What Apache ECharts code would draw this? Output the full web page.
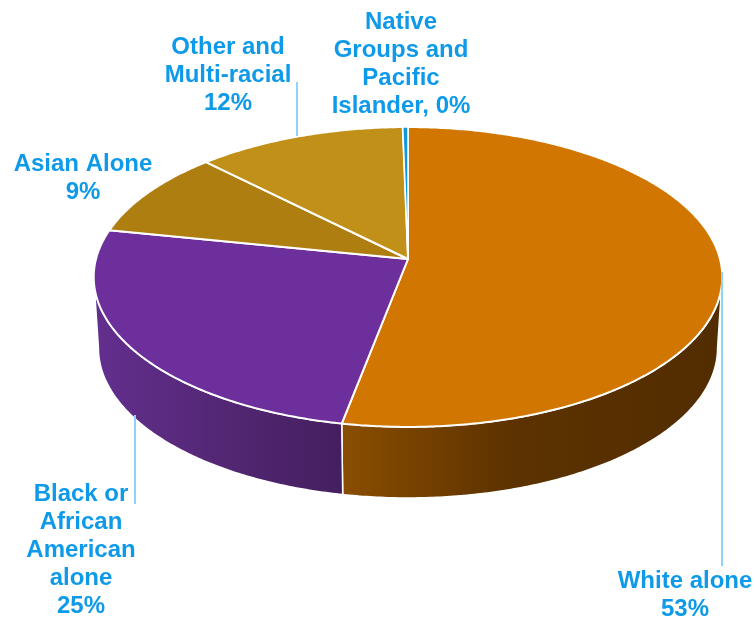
<!DOCTYPE html>
<html><head><meta charset="utf-8">
<style>html,body{margin:0;padding:0;background:#fff}#c{width:755px;height:617px}</style>
<script src="https://cdn.jsdelivr.net/npm/echarts@6/dist/echarts.min.js"></script>
</head><body><div id="c"></div>
<script>
const categories = ['White alone','Black or African American alone','Asian Alone','Other and Multi-racial','Native Groups and Pacific Islander'];
const shares = [53.0, 25.2, 9.4, 12.1, 0.3];
const labelTexts = ['White alone\n53%','Black or\nAfrican\nAmerican\nalone\n25%','Asian Alone\n9%','Other and\nMulti-racial\n12%','Native\nGroups and\nPacific\nIslander, 0%'];
const topColors = ['#d17600','#6d2f9c','#ae7e10','#c19018','#1097dc'];
const sideColors = [['#8a4e00','#5c3200','#522d00'],['#632f8f','#552877','#441f5f'],['#6f5009','#6f5009','#6f5009'],['#7b5b0e','#7b5b0e','#7b5b0e'],['#0a6090','#0a6090','#0a6090']];
const labelPos = [[685,595],[81,550],[83,178],[228,75],[401,64]];
const leaders = [[722,272,722,566],[135,415,135,504],[297,82,297,136]];

const CX=408, CY=259, A=312, B=147.8, P=0.12, DEPTH=71, BOT=0.985;
const total = shares.reduce((a,b)=>a+b,0);
function startAngle(i){let s=0;for(let k=0;k<i;k++)s+=shares[k];return s/total*Math.PI*2;}
function proj(t,bottom){
  const u=Math.sin(t),v=Math.cos(t),w=1+P*v;
  const k=bottom?BOT:1;
  return [CX+k*A*u/w, CY-B*v/w+(bottom?DEPTH:0)];
}
function arc(t0,t1,bottom){
  const n=Math.max(2,Math.ceil((t1-t0)/0.01)),pts=[];
  for(let i=0;i<=n;i++)pts.push(proj(t0+(t1-t0)*i/n,bottom));
  return pts;
}
const sil0=Math.PI/2+Math.asin(P), sil1=Math.PI*1.5-Math.asin(P);

function renderTop(params,api){
  const i=params.dataIndex;
  const t0=startAngle(i), t1=t0+api.value(0)/total*Math.PI*2;
  return {type:'polygon',shape:{points:[[CX,CY]].concat(arc(t0,t1,false))},
    style:{fill:topColors[i],stroke:'#fff',lineWidth:i===4?1.5:2,lineJoin:'round'}};
}
function renderSide(params,api){
  const i=params.dataIndex;
  const t0=Math.max(startAngle(i),sil0), t1=Math.min(startAngle(i)+api.value(0)/total*Math.PI*2,sil1);
  if(t1<=t0) return {type:'group',children:[]};
  const c=sideColors[i];
  const top=arc(t0,t1,false), bot=arc(t0,t1,true).reverse();
  return {type:'polygon',shape:{points:top.concat(bot)},
    style:{fill:{type:'linear',x:1,y:0,x2:0,y2:0,
      colorStops:[{offset:0,color:c[2]},{offset:0.55,color:c[1]},{offset:1,color:c[0]}]},
      stroke:'#fff',lineWidth:1.5,lineJoin:'round'}};
}
const data=shares.map((v,i)=>({name:categories[i],value:[v]}));
const graphic=[];
leaders.forEach(l=>graphic.push({type:'line',z:10,shape:{x1:l[0],y1:l[1],x2:l[2],y2:l[3]},style:{stroke:'#8fd3f9',lineWidth:2}}));
labelTexts.forEach((t,i)=>graphic.push({type:'text',z:11,x:labelPos[i][0],y:labelPos[i][1],
  style:{text:t,fill:'#0f9ae9',font:'bold 24px "Liberation Sans", Arial, sans-serif',lineHeight:28,align:'center',verticalAlign:'middle'}}));
const chart=echarts.init(document.getElementById('c'),null,{renderer:'canvas'});
chart.setOption({
  animation:false,backgroundColor:'#fff',
  series:[
    {type:'custom',coordinateSystem:'none',z:1,silent:true,renderItem:renderSide,data:data,encode:{value:0}},
    {type:'custom',coordinateSystem:'none',z:2,silent:true,renderItem:renderTop,data:data,encode:{value:0}}
  ],
  graphic:graphic
});
</script></body></html>
